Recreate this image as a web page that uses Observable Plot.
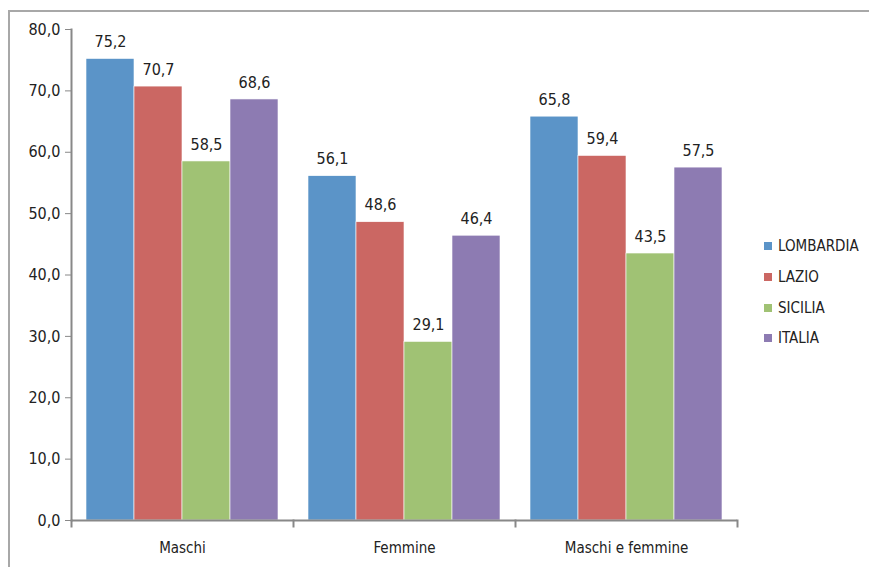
<!DOCTYPE html>
<html><head><meta charset="utf-8">
<script src="https://cdn.jsdelivr.net/npm/d3@7"></script>
<script src="https://cdn.jsdelivr.net/npm/@observablehq/plot@0.6"></script>
<style>
body{margin:0;background:#fff;}
#wrap{position:relative;width:869px;height:567px;overflow:hidden;font-family:"Liberation Sans Narrow","DejaVu Sans Condensed",sans-serif;}
#frame{position:absolute;left:8px;top:10px;width:900px;height:600px;border-top:2px solid #a8a8a8;border-left:2px solid #a8a8a8;}
#chart{position:absolute;left:0;top:0;}
#legend{position:absolute;left:764px;top:231px;}
.item{display:flex;align-items:center;height:30.7px;font-size:15px;color:#222;}
.sw{width:8px;height:8px;margin-right:6px;}
</style></head>
<body>
<div id="wrap"><div id="frame"></div><div id="chart"></div><div id="legend"></div></div>
<script>
const groups = ["Maschi", "Femmine", "Maschi e femmine"];
const regions = ["LOMBARDIA", "LAZIO", "SICILIA", "ITALIA"];
const lombardia = [75.2, 56.1, 65.8];
const lazio = [70.7, 48.6, 59.4];
const sicilia = [58.5, 29.1, 43.5];
const italia = [68.6, 46.4, 57.5];
const yTicks = [0, 10, 20, 30, 40, 50, 60, 70, 80];
const colors = ["#5b94c8", "#cb6763", "#a0c274", "#8d7bb2"];

const series = [lombardia, lazio, sicilia, italia];
const data = groups.flatMap((g, i) => regions.map((r, j) => ({group: g, region: r, value: series[j][i]})));
const fmt = v => v.toFixed(1).replace(".", ",");
const font = '"Liberation Sans Narrow","DejaVu Sans Condensed",sans-serif';

const chart = Plot.plot({
  width: 869, height: 567,
  marginLeft: 70, marginRight: 131, marginTop: 29, marginBottom: 47,
  style: {fontFamily: font, fontSize: "14px", color: "#222", background: "transparent"},
  fx: {domain: groups, padding: 0, label: null},
  x: {domain: regions, paddingInner: 0, paddingOuter: 0.3, axis: null},
  y: {domain: [0, 80], label: null},
  color: {domain: regions, range: colors},
  marks: [
    Plot.barY(data, {fx: "group", x: "region", y: "value", fill: "region", stroke: "#fff", strokeWidth: 0.6}),
    Plot.text(data, {fx: "group", x: "region", y: "value", text: d => fmt(d.value), dy: -17, fontSize: 16, fill: "#222"}),
    Plot.ruleY([0], {stroke: "#888", strokeWidth: 2}),
    Plot.frame({anchor: "left", facetAnchor: "left", stroke: "#888", strokeWidth: 2}),
    Plot.frame({anchor: "left", insetTop: 491, insetBottom: -6, stroke: "#888", strokeWidth: 2}),
    Plot.frame({anchor: "right", facetAnchor: "right", insetTop: 491, insetBottom: -6, stroke: "#888", strokeWidth: 2}),
    Plot.axisY({ticks: yTicks, tickFormat: fmt, tickSize: 6, tickPadding: 5, stroke: "#888", fill: "#222", fontSize: 16, label: null}),
    Plot.axisFx({anchor: "bottom", tickSize: 0, tickPadding: 22, label: null, fontSize: 15, fill: "#222"})
  ]
});
document.getElementById("chart").appendChild(chart);

const legend = document.getElementById("legend");
regions.forEach((r, i) => {
  const it = document.createElement("div");
  it.className = "item";
  it.innerHTML = `<span class="sw" style="background:${colors[i]}"></span><span>${r}</span>`;
  legend.appendChild(it);
});
</script>
</body></html>
